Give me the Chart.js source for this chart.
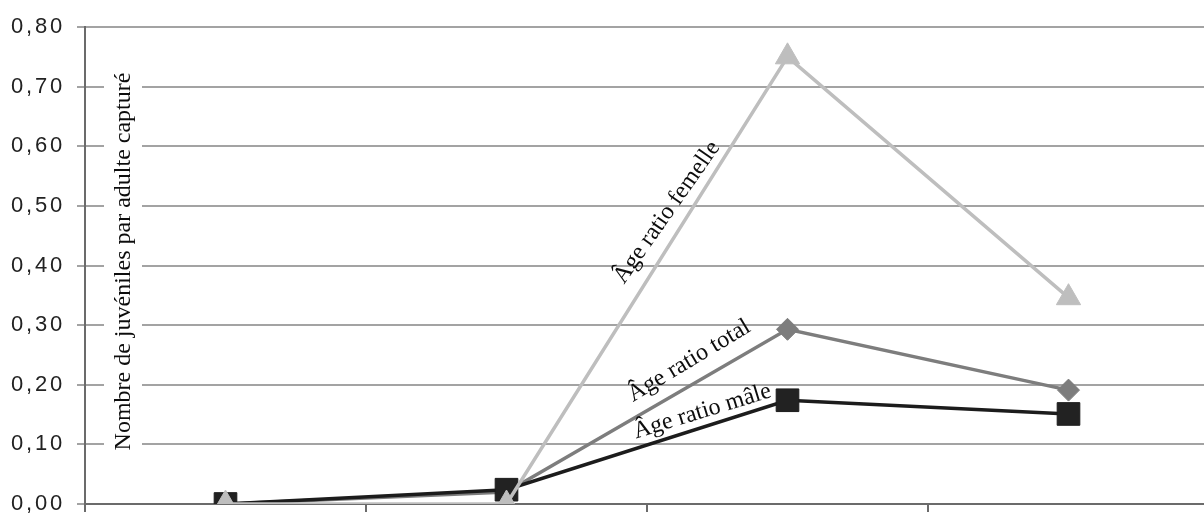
<!DOCTYPE html>
<html lang="fr">
<head>
<meta charset="utf-8">
<script src="https://cdn.jsdelivr.net/npm/chart.js@4.4.1/dist/chart.umd.min.js"></script>
<style>
  html, body { margin: 0; padding: 0; background: #fff; overflow: hidden; }
  #wrap { width: 1210px; height: 513px; }
</style>
</head>
<body>
<div id="wrap"><canvas id="c" width="1210" height="513"></canvas></div>
<script>
// Sampling periods (category axis, labels not shown)
const periodes = ['1', '2', '3', '4'];

// Juveniles per captured adult
const ratioFemelle = [0, 0, 0.75, 0.346];
const ratioMale    = [0, 0.024, 0.174, 0.151];
const ratioTotal   = [0, 0.02, 0.293, 0.191];

// Value axis
const yMin = 0;
const yMax = 0.8;
const yStep = 0.1;
const yTitle = 'Nombre de juvéniles par adulte capturé';

// Series names, written along each line
const nomFemelle = 'Âge ratio femelle';
const nomMale = 'Âge ratio mâle';
const nomTotal = 'Âge ratio total';

// Where each series name sits: category position, value, text angle
const notes = [
  { text: nomFemelle, at: 1.571, value: 0.489, angle: -55 },
  { text: nomTotal,   at: 1.650, value: 0.240, angle: -31 },
  { text: nomMale,    at: 1.697, value: 0.155, angle: -17 }
];

const serif = '"Liberation Serif", "Times New Roman", serif';

// Wider tick lettering on the value axis, reset before the data is drawn
const tickSpacing = {
  id: 'tickSpacing',
  beforeDraw(chart) { chart.ctx.letterSpacing = '2.8px'; },
  beforeDatasetsDraw(chart) { chart.ctx.letterSpacing = '0px'; }
};

// Axis title set inside the plot on a white band
const innerTitle = {
  id: 'innerTitle',
  beforeDatasetsDraw(chart) {
    const { ctx, chartArea } = chart;
    const cx = chartArea.left + 39;
    const cy = (chartArea.top + chartArea.bottom) / 2 - 4;
    ctx.save();
    ctx.font = '24px ' + serif;
    const w = ctx.measureText(yTitle).width;
    ctx.fillStyle = '#ffffff';
    ctx.fillRect(cx - 20, cy - w / 2 - 6, 38, w + 12);
    ctx.translate(cx, cy);
    ctx.rotate(-Math.PI / 2);
    ctx.fillStyle = '#0d0d0d';
    ctx.textAlign = 'center';
    ctx.textBaseline = 'middle';
    ctx.fillText(yTitle, 0, 0);
    ctx.restore();
  }
};

// Series names along the lines
const lineNotes = {
  id: 'lineNotes',
  afterDatasetsDraw(chart) {
    const { ctx } = chart;
    const xs = chart.scales.x, ys = chart.scales.y;
    ctx.save();
    ctx.font = '24px ' + serif;
    ctx.fillStyle = '#0d0d0d';
    ctx.textAlign = 'center';
    ctx.textBaseline = 'middle';
    notes.forEach(n => {
      ctx.save();
      ctx.translate(xs.getPixelForValue(n.at), ys.getPixelForValue(n.value));
      ctx.rotate(n.angle * Math.PI / 180);
      ctx.fillText(n.text, 0, 0);
      ctx.restore();
    });
    ctx.restore();
  }
};

new Chart(document.getElementById('c'), {
  type: 'line',
  data: {
    labels: periodes,
    datasets: [
      {
        label: nomFemelle,
        data: ratioFemelle,
        borderColor: '#bebebe',
        backgroundColor: '#bebebe',
        borderWidth: 3.5,
        pointStyle: 'triangle',
        pointRadius: 14,
        pointBorderWidth: 1,
        pointBorderColor: '#bebebe',
        pointBackgroundColor: '#bebebe'
      },
      {
        label: nomMale,
        data: ratioMale,
        borderColor: '#1c1c1c',
        backgroundColor: '#1c1c1c',
        borderWidth: 3.5,
        pointStyle: 'rect',
        pointRadius: 16,
        pointBorderWidth: 1,
        pointBorderColor: '#1c1c1c',
        pointBackgroundColor: '#222222'
      },
      {
        label: nomTotal,
        data: ratioTotal,
        borderColor: '#7d7d7d',
        backgroundColor: '#7d7d7d',
        borderWidth: 3.5,
        pointStyle: 'rectRot',
        pointRadius: 11,
        pointBorderWidth: 1,
        pointBorderColor: '#7d7d7d',
        pointBackgroundColor: '#7d7d7d'
      }
    ]
  },
  options: {
    responsive: false,
    animation: false,
    devicePixelRatio: 1,
    layout: { autoPadding: false, padding: { top: 27, right: 1, bottom: 0, left: 0 } },
    plugins: {
      legend: { display: false },
      tooltip: { enabled: false },
      title: { display: false }
    },
    elements: { line: { tension: 0 } },
    scales: {
      x: {
        offset: true,
        grid: {
          offset: true,
          drawOnChartArea: false,
          drawTicks: true,
          tickLength: 8,
          color: '#6b6b6b',
          lineWidth: 2
        },
        border: { display: true, color: '#6b6b6b', width: 2 },
        ticks: { display: false },
        afterFit(scale) {
          scale.height = 9;
          scale.paddingLeft = 0;
          scale.paddingRight = 0;
        }
      },
      y: {
        min: yMin,
        max: yMax,
        ticks: {
          stepSize: yStep,
          padding: 12,
          color: '#222222',
          font: { family: '"Liberation Sans", Arial, sans-serif', size: 22 },
          callback: v => v.toFixed(2).replace('.', ',')
        },
        grid: {
          color: '#a3a3a3',
          lineWidth: 2,
          drawTicks: true,
          tickLength: 8
        },
        border: { display: true, color: '#6b6b6b', width: 2 },
        afterFit(scale) {
          scale.width = 85;
          scale.paddingTop = 0;
          scale.paddingBottom = 0;
        }
      }
    }
  },
  plugins: [tickSpacing, innerTitle, lineNotes]
});
</script>
</body>
</html>
